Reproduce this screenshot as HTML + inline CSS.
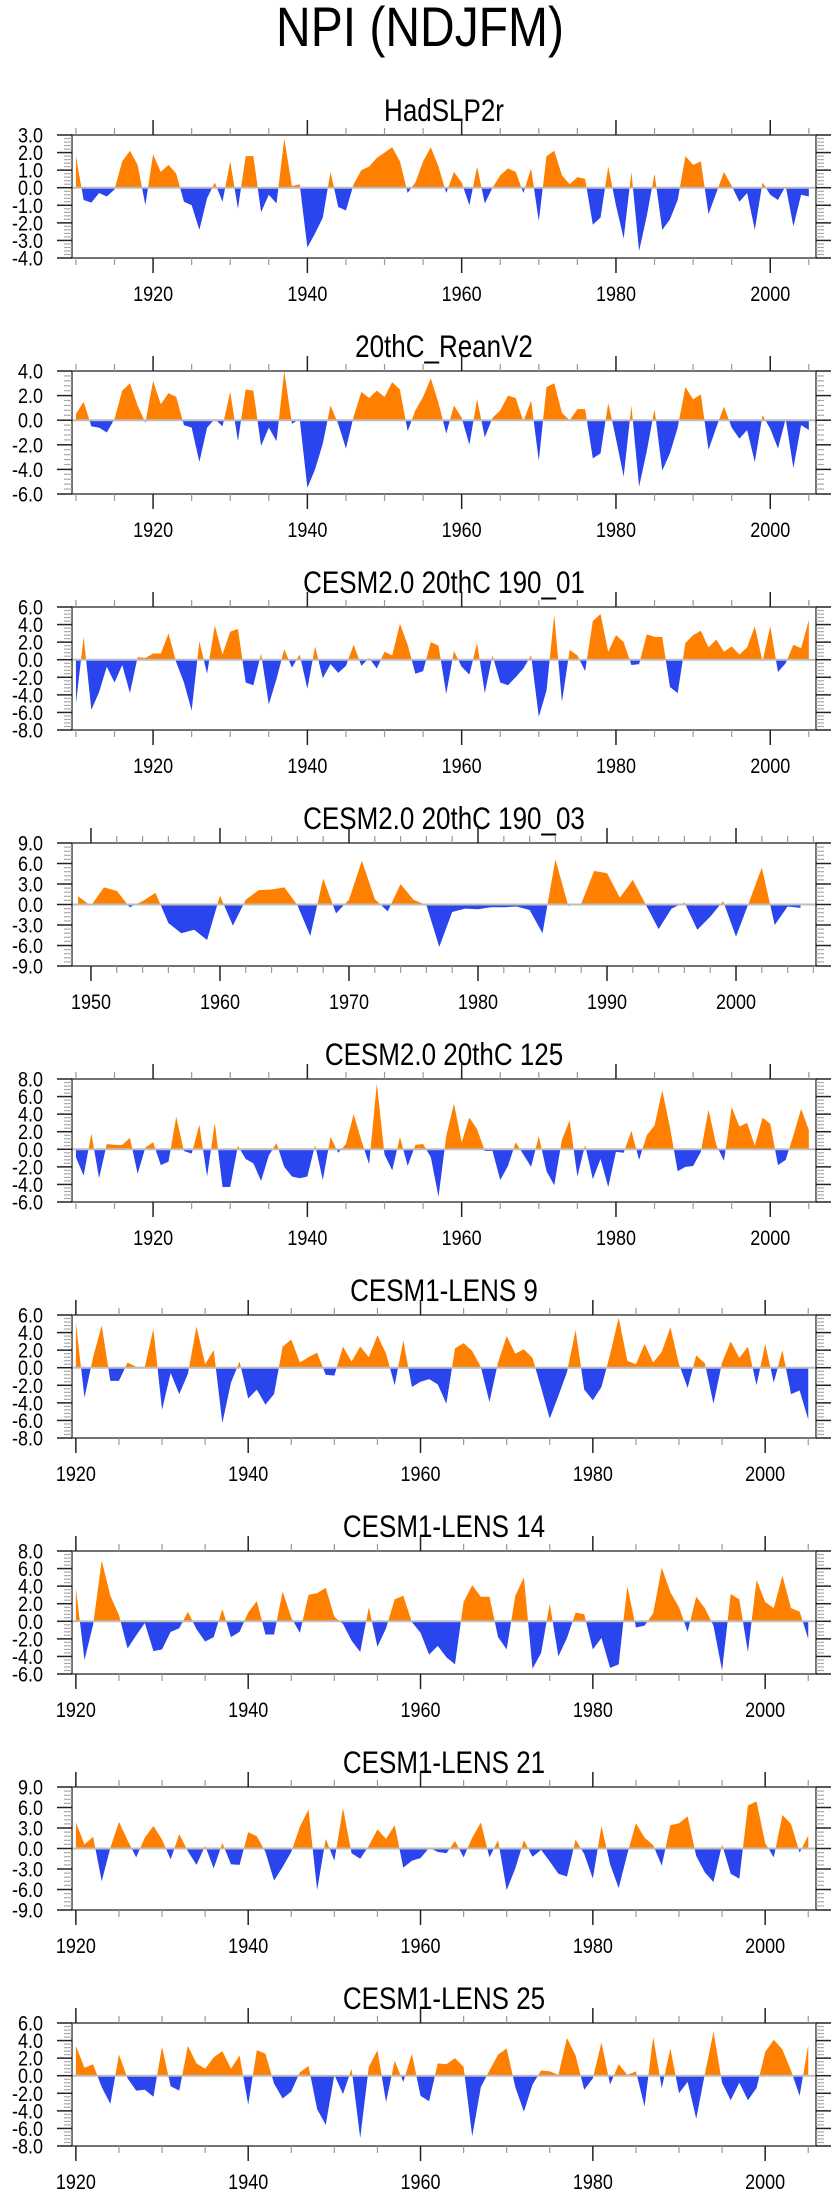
<!DOCTYPE html>
<html><head><meta charset="utf-8"><style>
html,body{margin:0;padding:0;background:#fff;}
body{width:840px;height:2200px;overflow:hidden;font-family:"Liberation Sans",sans-serif;}
svg text{font-family:"Liberation Sans",sans-serif;fill:#000;}
</style></head><body>
<svg id="chart" width="840" height="2200" viewBox="0 0 840 2200" xmlns="http://www.w3.org/2000/svg">
<text transform="translate(420,46) scale(1,1.15)" x="0" y="0" font-size="48" text-anchor="middle">NPI (NDJFM)</text>
</svg>
<script>
const panelTitles = ["HadSLP2r","20thC_ReanV2","CESM2.0 20thC 190_01","CESM2.0 20thC 190_03","CESM2.0 20thC 125","CESM1-LENS 9","CESM1-LENS 14","CESM1-LENS 21","CESM1-LENS 25"];
const startYears = [1910,1910,1910,1949,1910,1920,1920,1920,1920];
const yMins = [-4,-6,-8,-9,-6,-8,-6,-9,-8];
const yMaxs = [3,4,6,9,8,6,8,9,6];
const yStepMajor = [1,2,2,3,2,2,2,3,2];
const xDomainMin = [1909.49,1909.49,1909.49,1948.53,1909.49,1919.55,1919.55,1919.55,1919.55];
const xDomainMax = [2005.93,2005.93,2005.93,2006.2,2005.93,2005.9,2005.9,2005.9,2005.9];
const xLabelYears = [[1920,1940,1960,1980,2000],[1920,1940,1960,1980,2000],[1920,1940,1960,1980,2000],[1950,1960,1970,1980,1990,2000],[1920,1940,1960,1980,2000],[1920,1940,1960,1980,2000],[1920,1940,1960,1980,2000],[1920,1940,1960,1980,2000],[1920,1940,1960,1980,2000]];
const xMinorStep = [5,5,5,2,5,5,5,5,5];
const xMinorFirst = [1910,1910,1910,1950,1910,1920,1920,1920,1920];
const xMinorLast = [2005,2005,2005,2006,2005,2005,2005,2005,2005];

const hadslp2r = [1.8,-0.7,-0.85,-0.3,-0.5,-0.1,1.5,2.1,1.3,-1.0,1.9,0.9,1.3,0.8,-0.8,-1.0,-2.4,-0.6,0.3,-0.8,1.5,-1.2,1.8,1.8,-1.4,-0.4,-0.9,2.8,0.1,0.2,-3.4,-2.6,-1.7,0.9,-1.1,-1.3,0.2,1.0,1.2,1.7,2.0,2.3,1.5,-0.3,0.3,1.5,2.3,1.2,-0.3,0.9,0.3,-1.0,1.2,-0.9,0.0,0.7,1.1,0.9,-0.3,1.1,-1.9,1.8,2.1,0.7,0.2,0.6,0.5,-2.1,-1.7,1.2,-1.0,-2.9,0.9,-3.6,-1.6,0.8,-2.4,-1.8,-0.7,1.8,1.3,1.5,-1.5,-0.3,0.9,0.1,-0.8,-0.3,-2.4,0.3,-0.4,-0.7,0.1,-2.2,-0.4,-0.5];
const reanV2 = [0.5,1.5,-0.5,-0.6,-1.0,0.1,2.4,3.0,1.2,-0.2,3.2,1.3,2.2,1.9,-0.4,-0.6,-3.4,-0.6,0.1,-0.5,2.3,-1.7,2.5,2.4,-2.1,-0.6,-1.7,4.0,-0.3,0.1,-5.5,-4.0,-1.9,1.2,-0.3,-2.3,0.3,2.3,1.8,2.4,1.9,3.1,2.5,-0.9,0.8,1.9,3.4,1.4,-1.1,1.2,0.2,-2.0,1.7,-1.4,0.2,0.8,2.0,1.8,-0.1,1.6,-3.3,2.7,3.0,0.6,0.0,0.9,0.9,-3.1,-2.7,1.4,-1.5,-4.6,1.2,-5.4,-2.5,0.9,-4.1,-2.7,-0.6,2.7,1.7,2.1,-2.4,-0.6,1.1,-0.6,-1.5,-0.8,-3.4,0.4,-0.7,-2.3,0.1,-3.9,-0.4,-0.8];
const cesm2_190_01 = [-5.0,2.6,-5.7,-3.7,-0.8,-2.6,-0.6,-3.8,0.3,0.2,0.7,0.7,3.0,-0.3,-2.6,-5.8,2.1,-1.6,3.9,0.6,3.2,3.5,-2.6,-2.9,0.7,-5.1,-2.2,1.2,-0.9,0.6,-3.3,1.5,-2.1,-0.5,-1.5,-0.7,1.7,-0.7,0.2,-1.0,0.9,0.5,4.1,1.7,-1.6,-1.3,2.0,1.6,-3.9,1.0,-0.8,-1.7,1.9,-3.8,0.5,-2.6,-2.9,-2.0,-1.0,0.5,-6.5,-3.5,5.1,-4.8,1.1,0.5,-1.3,4.4,5.2,0.9,2.8,2.0,-0.6,-0.5,2.9,2.6,2.6,-3.1,-3.8,1.9,2.8,3.3,1.4,2.3,0.9,1.5,0.6,1.4,3.8,-0.2,3.8,-1.4,-0.4,1.7,1.3,4.5];
const cesm2_190_03 = [1.2,-0.2,2.5,2.0,-0.4,0.5,1.7,-2.7,-4.2,-3.7,-5.2,1.3,-3.1,0.7,2.1,2.2,2.5,-0.1,-4.6,3.8,-1.3,0.7,6.4,0.8,-1.0,3.0,0.7,-0.1,-6.2,-1.1,-0.6,-0.7,-0.4,-0.4,-0.3,-0.8,-4.2,6.6,-0.2,0.1,4.9,4.6,1.0,3.6,0.0,-3.6,-0.6,0.3,-3.7,-1.8,0.5,-4.7,0.3,5.4,-3.0,-0.3,-0.5];
const cesm2_125 = [-0.9,-3.0,1.8,-3.3,0.6,0.5,0.5,1.3,-2.8,0.2,0.8,-1.8,-1.4,3.7,-0.2,-0.5,2.8,-3.1,3.0,-4.3,-4.3,0.4,-1.1,-1.6,-3.6,-0.7,0.7,-2.0,-3.1,-3.3,-3.1,0.5,-3.5,1.4,-0.4,0.6,4.0,1.0,-1.7,7.5,-0.6,-2.4,1.4,-1.9,0.5,0.6,-0.9,-5.4,1.5,5.2,0.8,3.6,2.3,-0.2,-0.2,-3.5,-1.9,0.8,-0.6,-2.0,1.5,-2.5,-4.1,1.1,3.3,-3.1,0.5,-3.4,-1.1,-4.3,-0.3,-0.4,2.1,-1.2,1.6,2.7,6.7,2.5,-2.5,-2.0,-1.9,-0.3,4.5,0.5,-1.3,4.8,2.6,3.0,0.4,3.6,2.9,-1.8,-1.2,1.6,4.6,2.2];
const lens9 = [5.1,-3.4,1.2,4.8,-1.5,-1.5,0.6,0.1,0.1,4.4,-4.8,-0.6,-3.0,-0.7,4.7,0.4,2.0,-6.3,-1.7,0.7,-3.5,-2.5,-4.2,-3.0,2.4,3.2,0.6,1.2,1.7,-0.8,-0.9,2.4,0.7,2.4,1.2,3.7,1.6,-2.0,3.1,-2.2,-1.6,-1.3,-1.9,-4.1,2.2,2.8,1.9,0.1,-3.9,0.6,3.6,1.6,2.1,1.1,-2.3,-5.8,-3.2,-0.5,4.3,-2.5,-3.7,-2.2,1.5,5.7,0.8,0.4,2.7,0.6,1.8,4.6,0.4,-2.3,1.4,0.5,-4.1,0.6,3.0,1.1,2.4,-2.0,2.7,-1.7,2.0,-3.0,-2.6,-5.9];
const lens14 = [3.8,-4.4,-0.4,6.9,2.9,0.7,-3.1,-1.6,-0.2,-3.4,-3.2,-1.2,-0.8,1.1,-0.9,-2.3,-1.8,1.4,-1.8,-1.2,1.0,2.3,-1.5,-1.5,3.4,0.4,-1.3,3.0,3.2,3.8,0.5,-0.3,-2.2,-3.5,1.6,-2.9,-0.8,2.5,2.9,-0.1,-1.3,-3.8,-2.8,-4.1,-4.9,2.2,4.1,2.8,2.8,-1.8,-3.2,2.9,5.0,-5.4,-3.6,2.0,-4.0,-1.9,1.0,0.8,-3.2,-1.9,-5.3,-4.9,4.0,-0.7,-0.5,0.9,6.1,3.3,1.6,-1.2,2.8,1.5,-0.5,-5.6,3.1,2.5,-3.5,4.7,2.2,1.5,5.2,1.5,1.1,-2.0];
const lens21 = [3.8,0.6,1.7,-4.8,0.1,3.9,1.2,-1.3,1.6,3.3,1.3,-1.6,2.1,-0.4,-2.4,0.4,-2.9,0.8,-2.3,-2.4,2.4,1.8,-0.5,-4.7,-2.7,-0.5,3.2,5.7,-6.1,1.4,-1.8,5.9,-0.7,-1.5,0.4,2.8,1.4,3.4,-2.8,-1.8,-1.4,0.1,-0.5,-0.7,1.1,-1.3,1.6,3.8,-1.3,1.2,-6.1,-2.9,1.2,-1.2,-0.2,-1.9,-3.7,-4.1,1.3,-0.8,-4.4,3.3,-2.3,-5.8,-0.8,3.7,1.6,0.5,-2.5,3.4,3.7,4.7,-1.1,-3.5,-4.9,0.6,-3.7,-4.4,6.3,6.9,0.8,-1.3,4.9,3.6,-0.6,1.9];
const lens25 = [3.4,0.9,1.3,-1.3,-3.2,2.4,-0.3,-1.7,-1.6,-2.4,3.3,-1.2,-1.7,3.4,1.4,0.8,2.1,2.8,0.8,2.3,-3.3,2.9,2.5,-0.9,-2.6,-1.8,0.4,1.1,-3.8,-5.6,0.1,-2.1,0.8,-7.1,1.0,2.9,-3.0,1.7,-0.7,2.5,-2.3,-2.9,1.4,1.3,2.0,1.0,-6.9,-1.3,0.6,2.4,3.1,-1.3,-4.1,-1.0,0.6,0.5,0.1,4.3,2.3,-1.6,-0.3,3.8,-1.0,1.3,0.1,0.5,-3.5,4.4,-1.4,3.1,-2.0,-0.7,-4.9,0.2,5.0,-0.8,-2.8,-0.8,-2.8,-1.4,2.7,4.1,3.0,0.6,-2.3,3.5];
const seriesValues = [hadslp2r, reanV2, cesm2_190_01, cesm2_190_03, cesm2_125, lens9, lens14, lens21, lens25];

const NS = "http://www.w3.org/2000/svg";
const svg = document.getElementById("chart");
const L = 72, R = 816, TOP0 = 135, STEP = 236, H = 123;
function mk(tag, attrs, parent) {
  const e = document.createElementNS(NS, tag);
  for (const k in attrs) e.setAttribute(k, attrs[k]);
  (parent || svg).appendChild(e);
  return e;
}
function txt(x, y, size, anchor, sy, parent) {
  return mk("text", {x: 0, y: 0, transform: "translate(" + x.toFixed(2) + "," + y.toFixed(2) + ") scale(1," + sy + ")", "font-size": size, "text-anchor": anchor}, parent);
}
function fmt(v) { return v.toFixed(1); }

for (let p = 0; p < 9; p++) {
  const top = TOP0 + STEP * p, bot = top + H;
  const g = mk("g", {});
  
  
  const xs = yr => L + (yr - xDomainMin[p]) / (xDomainMax[p] - xDomainMin[p]) * (R - L);
  const ys = v => top + (yMaxs[p] - v) / (yMaxs[p] - yMins[p]) * H;

  const title = txt((L + R) / 2, top - 14, 26, "middle", 1.2, g);
  title.textContent = panelTitles[p];
  
  

  const vals = seriesValues[p];
  const y0 = ys(0);
  let pts = xs(startYears[p]).toFixed(2) + "," + y0.toFixed(2);
  vals.forEach((v, i) => { pts += " " + xs(startYears[p] + i).toFixed(2) + "," + ys(v).toFixed(2); });
  pts += " " + xs(startYears[p] + vals.length - 1).toFixed(2) + "," + y0.toFixed(2);
  const defs = mk("defs", {}, g);
  const cpA = mk("clipPath", {id: "ca" + p}, defs);
  mk("rect", {x: 0, y: top, width: 840, height: y0 - top}, cpA);
  const cpB = mk("clipPath", {id: "cb" + p}, defs);
  mk("rect", {x: 0, y: y0, width: 840, height: bot - y0}, cpB);
  const pa = mk("polygon", {points: pts, fill: "#ff8000", "clip-path": "url(#ca" + p + ")"}, g);
  
  
  const pb = mk("polygon", {points: pts, fill: "#2a44ee", "clip-path": "url(#cb" + p + ")"}, g);
  
  
  const zl = mk("line", {x1: L, x2: R, y1: y0, y2: y0, stroke: "#bdbdbd", "stroke-width": 2}, g);
  
  

  const fr = mk("rect", {x: L, y: top, width: R - L, height: H, fill: "none", stroke: "#444", "stroke-width": 1.5}, g);
  
  

  const ms = yStepMajor[p], mn = ms / 5;
  const nMin = Math.round((yMaxs[p] - yMins[p]) / mn);
  for (let k = 0; k <= nMin; k++) {
    const v = yMins[p] + k * mn, y = ys(v);
    const major = k % 5 === 0;
    const len = major ? 15 : 8, col = major ? "#222" : "#aaa";
    mk("line", {x1: L - len, x2: L, y1: y, y2: y, stroke: col, "stroke-width": major ? 1.5 : 1.2}, g);
    mk("line", {x1: R, x2: R + len, y1: y, y2: y, stroke: col, "stroke-width": major ? 1.5 : 1.2}, g);
    if (major) {
      const t = txt(43, y + 7.5, 18, "end", 1.2, g);
      t.textContent = fmt(v);
      
      
    }
  }
  for (let yr = xMinorFirst[p]; yr <= xMinorLast[p]; yr += xMinorStep[p]) {
    const x = xs(yr);
    const major = xLabelYears[p].indexOf(yr) >= 0;
    const len = major ? 15 : 7, col = major ? "#222" : "#999";
    mk("line", {x1: x, x2: x, y1: top - len, y2: top, stroke: col, "stroke-width": major ? 1.5 : 1.2}, g);
    mk("line", {x1: x, x2: x, y1: bot, y2: bot + len, stroke: col, "stroke-width": major ? 1.5 : 1.2}, g);
  }
  xLabelYears[p].forEach(yr => {
    const t = txt(xs(yr), bot + 43, 18, "middle", 1.2, g);
    t.textContent = yr;
    
    
  });
}
</script>
</body></html>
